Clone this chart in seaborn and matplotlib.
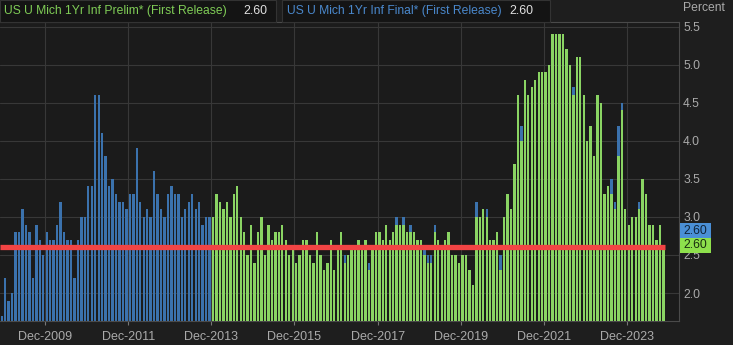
import numpy as np
import pandas as pd
import matplotlib
matplotlib.use("Agg")
import matplotlib.pyplot as plt
from matplotlib.patches import Rectangle
import seaborn as sns

# ---------------- data ----------------
months = pd.date_range("2008-12-01", "2024-11-01", freq="MS")

# Final (first release), Dec 2008 - Dec 2013
final_2008_2013 = [
    1.7, 2.2, 1.9, 2.0, 2.8, 2.8, 3.1, 2.9, 2.8, 2.2, 2.9, 2.7, 2.5,
    2.8, 2.7, 2.7, 2.9, 3.2, 2.8, 2.7, 2.7, 2.2, 2.7, 3.0, 3.0,
    3.4, 3.4, 4.6, 4.6, 4.1, 3.8, 3.4, 3.5, 3.3, 3.2, 3.2, 3.1,
    3.3, 3.3, 3.9, 3.2, 3.0, 3.1, 3.0, 3.6, 3.3, 3.1, 3.0, 3.3,
    3.4, 3.3, 3.3, 3.0, 3.1, 3.2, 3.3, 3.1, 3.2, 2.9, 3.0, 3.0,
]
# Final (first release), Jan 2014 - Nov 2024
final_2014_2024 = [
    3.0, 3.3, 3.2, 3.1, 3.2, 3.0, 3.3, 3.4, 3.0, 2.8, 2.5, 2.9,
    2.4, 2.8, 3.0, 2.5, 2.9, 2.7, 2.8, 2.8, 2.9, 2.7, 2.5, 2.6,
    2.4, 2.5, 2.7, 2.7, 2.5, 2.4, 2.8, 2.5, 2.3, 2.4, 2.7, 2.3,
    2.6, 2.8, 2.5, 2.5, 2.6, 2.6, 2.7, 2.6, 2.7, 2.4, 2.6, 2.8,
    2.8, 2.7, 2.9, 2.7, 2.8, 3.0, 2.9, 3.0, 2.8, 2.9, 2.8, 2.7,
    2.7, 2.6, 2.5, 2.5, 2.9, 2.7, 2.6, 2.7, 2.8, 2.5, 2.5, 2.4,
    2.5, 2.5, 2.3, 2.1, 3.2, 3.0, 3.1, 3.1, 2.7, 2.7, 2.8, 2.5,
    3.0, 3.3, 3.1, 3.7, 4.6, 4.2, 4.8, 4.6, 4.7, 4.8, 4.9, 4.9,
    4.9, 5.0, 5.4, 5.4, 5.4, 5.4, 5.2, 5.0, 4.7, 5.1, 5.1, 4.6,
    4.0, 4.2, 3.8, 4.6, 4.5, 3.3, 3.4, 3.5, 3.2, 4.2, 4.5, 3.1,
    2.9, 3.0, 3.0, 3.2, 3.5, 3.3, 2.9, 2.9, 2.7, 2.9, 2.6,
]
# Prelim (first release), Jan 2014 - Nov 2024
prelim_2014_2024 = [
    3.0, 3.3, 3.2, 3.1, 3.2, 3.0, 3.3, 3.4, 3.0, 2.8, 2.5, 2.9,
    2.4, 2.8, 3.0, 2.5, 2.9, 2.7, 2.8, 2.8, 2.9, 2.7, 2.5, 2.6,
    2.4, 2.5, 2.7, 2.7, 2.5, 2.4, 2.8, 2.5, 2.3, 2.4, 2.7, 2.3,
    2.6, 2.8, 2.4, 2.5, 2.6, 2.6, 2.7, 2.6, 2.7, 2.3, 2.6, 2.8,
    2.8, 2.7, 2.9, 2.7, 2.8, 2.9, 2.9, 2.9, 2.8, 2.8, 2.8, 2.7,
    2.7, 2.5, 2.4, 2.4, 2.8, 2.7, 2.6, 2.7, 2.8, 2.5, 2.5, 2.4,
    2.5, 2.5, 2.3, 2.1, 3.0, 3.0, 3.1, 3.0, 2.7, 2.7, 2.8, 2.3,
    3.0, 3.3, 3.1, 3.7, 4.6, 4.0, 4.8, 4.6, 4.7, 4.8, 4.9, 4.9,
    4.9, 5.0, 5.4, 5.4, 5.4, 5.4, 5.2, 5.0, 4.6, 5.1, 5.1, 4.6,
    4.0, 4.2, 3.8, 4.6, 4.5, 3.3, 3.4, 3.3, 3.1, 3.8, 4.4, 3.1,
    2.9, 3.0, 3.0, 3.1, 3.5, 3.3, 2.9, 2.9, 2.7, 2.9, 2.6,
]

y_ticks = [2.0, 2.5, 3.0, 3.5, 4.0, 4.5, 5.0, 5.5]
x_tick_labels = ["Dec-2009", "Dec-2011", "Dec-2013", "Dec-2015",
                 "Dec-2017", "Dec-2019", "Dec-2021", "Dec-2023"]

prelim_name = "US U Mich 1Yr Inf Prelim* (First Release)"
final_name = "US U Mich 1Yr Inf Final* (First Release)"

# ---------------- styling ----------------
BG = "#1e1e1e"
PLOT_BG = "#1b1b1b"
HEADER_BG = "#141414"
GRID = "#383838"
TXT = "#aaaaaa"
BLUE = "#3b72ad"
GREEN = "#8ad463"
BLUE_TXT = "#4a88cc"
GREEN_TXT = "#7fcc56"
RED = "#f24444"

sns.set_theme(style="dark")
plt.rcParams["font.family"] = ["Liberation Sans", "DejaVu Sans"]

W, H = 733, 345
fig = plt.figure(figsize=(W / 100, H / 100), dpi=100, facecolor=BG)
ax_left, ax_right, ax_top, ax_bot = 0, 679, 22, 321
ax = fig.add_axes([ax_left / W, 1 - ax_bot / H, (ax_right - ax_left) / W,
                   (ax_bot - ax_top) / H])
ax.set_facecolor(PLOT_BG)

pos_all = np.arange(len(months))
df_final = pd.DataFrame({"pos": pos_all,
                         "value": final_2008_2013 + final_2014_2024})
df_prelim = pd.DataFrame({"pos": pos_all[len(final_2008_2013):],
                          "value": prelim_2014_2024})

sns.barplot(data=df_final, x="pos", y="value", native_scale=True,
            width=0.68, color=BLUE, saturation=1, errorbar=None,
            linewidth=0, ax=ax, zorder=2)
sns.barplot(data=df_prelim, x="pos", y="value", native_scale=True,
            width=0.68, color=GREEN, saturation=1, errorbar=None,
            linewidth=0, ax=ax, zorder=3)

ax.set_xlim(-0.49, 195.5)
ax.set_ylim(1.633, 5.56)

# gridlines / ticks
ax.set_yticks(y_ticks)
ax.set_yticklabels([f"{v:.1f}" for v in y_ticks])
dec_pos = [i + 0.5 for i, m in enumerate(months)
           if m.month == 12 and m.year % 2 == 1]
ax.set_xticks(dec_pos)
ax.set_xticklabels(x_tick_labels)
ax.grid(True, color=GRID, linewidth=0.8, zorder=0)
ax.set_axisbelow(True)

ax.yaxis.tick_right()
ax.set_xlabel("")
ax.set_ylabel("")
ax.tick_params(axis="y", length=0, pad=3, labelcolor=TXT, labelsize=8.7)
ax.tick_params(axis="x", length=3, width=0.8, color="#777777", pad=4,
               labelcolor=TXT, labelsize=9, bottom=True)
ax.spines["left"].set_visible(False)
for s in ["bottom", "right", "top"]:
    ax.spines[s].set_color("#4a4a4a")
    ax.spines[s].set_linewidth(0.8)

# red reference line at latest value
ax.hlines(prelim_2014_2024[-1], -0.49, len(months) - 0.5, color=RED,
          linewidth=3.8, zorder=5)

# ---------------- header ----------------
def fig_rect(x0, y0, x1, y1, **kw):
    fig.patches.append(Rectangle((x0 / W, 1 - y1 / H), (x1 - x0) / W,
                                 (y1 - y0) / H, transform=fig.transFigure,
                                 **kw))

fig_rect(0, 0, 276, 22, facecolor=HEADER_BG, edgecolor="#333333", lw=0.8,
         zorder=10)
fig_rect(282, 0, 550, 22, facecolor=HEADER_BG, edgecolor="#333333", lw=0.8,
         zorder=10)
fig.text(4 / W, 1 - 11 / H, prelim_name, color=GREEN_TXT, fontsize=8.7,
         va="center", ha="left", zorder=11)
fig.text(243 / W, 1 - 11 / H, f"{prelim_2014_2024[-1]:.2f}", color="#e0e0e0",
         fontsize=8.9, va="center", ha="left", zorder=11)
fig.text(287 / W, 1 - 11 / H, final_name, color=BLUE_TXT, fontsize=8.7,
         va="center", ha="left", zorder=11)
fig.text(509 / W, 1 - 11 / H, f"{final_2014_2024[-1]:.2f}", color="#e0e0e0",
         fontsize=8.9, va="center", ha="left", zorder=11)

fig.text(683 / W, 1 - 8 / H, "Percent", color=TXT, fontsize=8.7,
         va="center", ha="left")

# right-side value tags
fig_rect(680, 223, 711, 238, facecolor="#4a8fd6", edgecolor="none", zorder=10)
fig_rect(680, 238, 711, 253, facecolor="#8ee04c", edgecolor="none", zorder=10)
fig.text(695.5 / W, 1 - 230.5 / H, f"{final_2014_2024[-1]:.2f}",
         color="#10243a", fontsize=8.7, va="center", ha="center", zorder=11)
fig.text(695.5 / W, 1 - 245.5 / H, f"{prelim_2014_2024[-1]:.2f}",
         color="#1a2e10", fontsize=8.7, va="center", ha="center", zorder=11)

fig.savefig("out.png", dpi=100, facecolor=BG)
